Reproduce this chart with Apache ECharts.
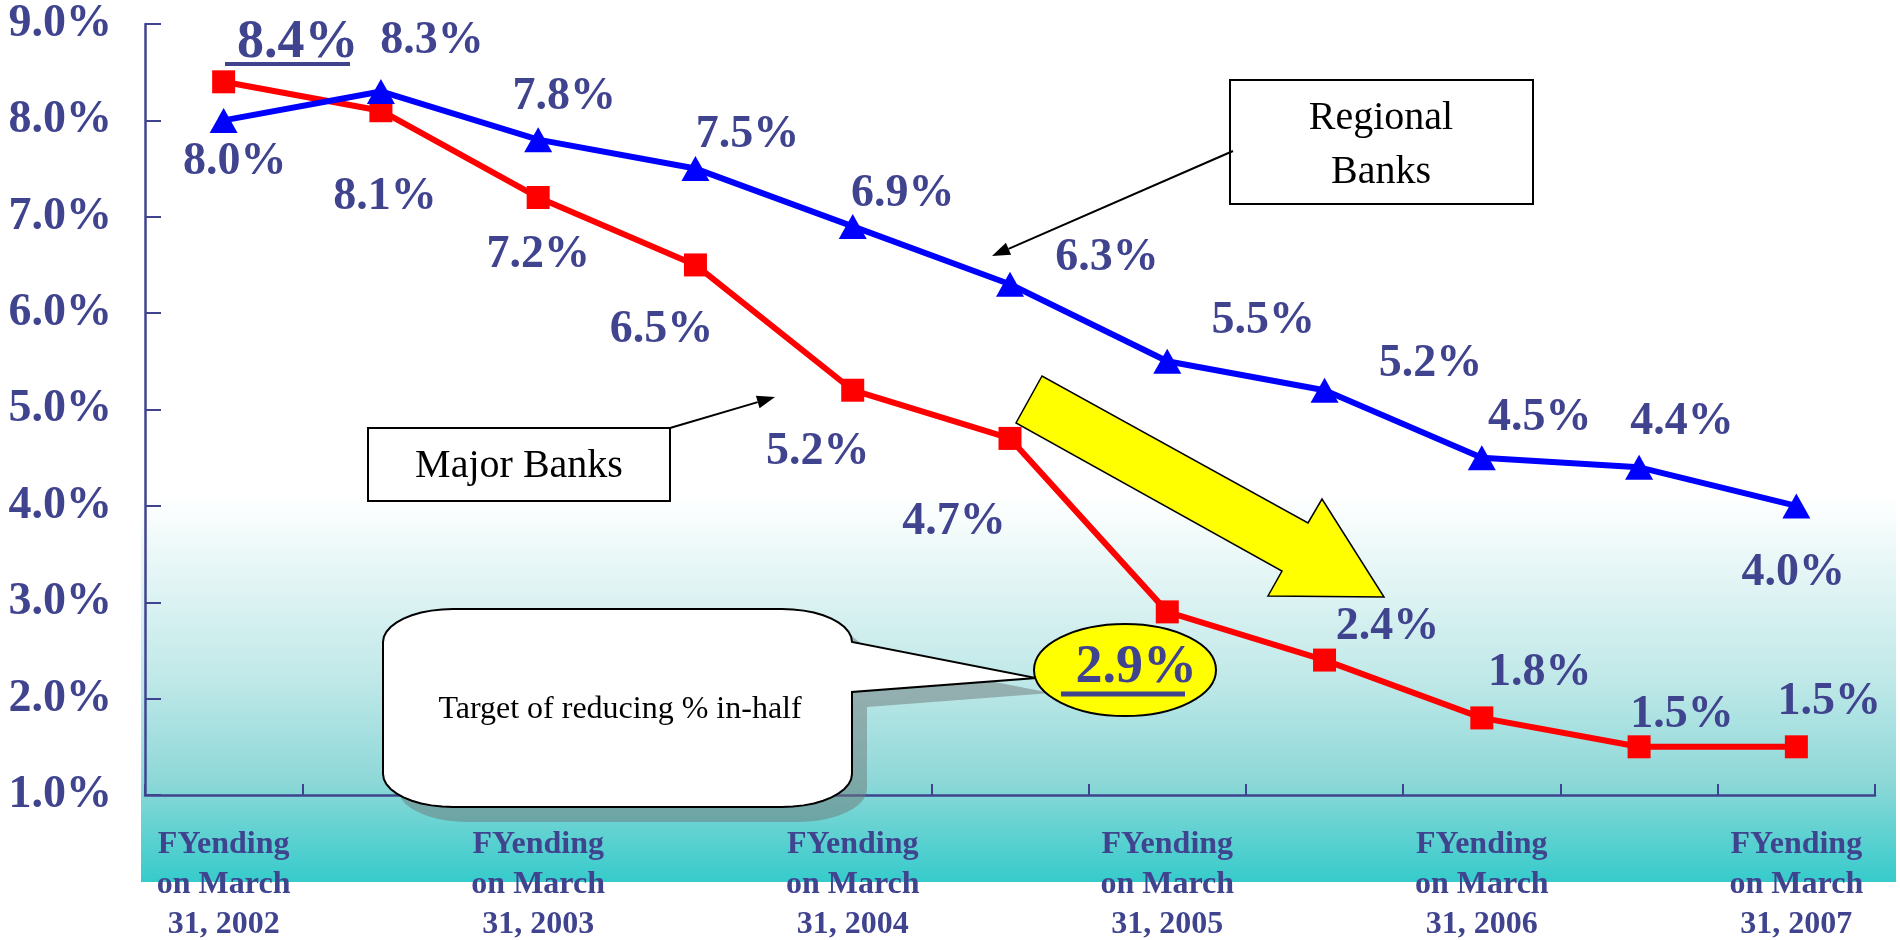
<!DOCTYPE html>
<html>
<head>
<meta charset="utf-8">
<script src="https://cdn.jsdelivr.net/npm/echarts@6/dist/echarts.min.js"></script>
<style>
  html, body { margin: 0; padding: 0; background: #fff; }
  #main { width: 1900px; height: 940px; }
</style>
</head>
<body>
<div id="main"></div>
<script>
// half-year points, labelled every March
const periods = ["Mar 2002", "Sep 2002", "Mar 2003", "Sep 2003", "Mar 2004", "Sep 2004",
  "Mar 2005", "Sep 2005", "Mar 2006", "Sep 2006", "Mar 2007"];
const tickLabels = ["FYending\non March\n31, 2002", "", "FYending\non March\n31, 2003", "",
  "FYending\non March\n31, 2004", "", "FYending\non March\n31, 2005", "",
  "FYending\non March\n31, 2006", "", "FYending\non March\n31, 2007"];
const majorBanks = [8.4, 8.1, 7.2, 6.5, 5.2, 4.7, 2.9, 2.4, 1.8, 1.5, 1.5];
const regionalBanks = [8.0, 8.3, 7.8, 7.5, 6.9, 6.3, 5.5, 5.2, 4.5, 4.4, 4.0];
// start value and target (halved) get the big underlined label
const majorHighlight = [0, 6];

// where each value label sits relative to its marker (px)
const majorLabelOffset = [[74, -39], [4, 86], [0, 58], [-34, 65], [-35, 62], [-56, 84],
  [-31, 56], [63, -33], [58, -45], [43, -32], [33, -45]];
const regionalLabelOffset = [[11, 42], [51, -50], [26, -43], [52, -33], [50, -32], [97, -26],
  [96, -40], [106, -26], [58, -40], [43, -45], [-3, 67]];

const NAVY = "#40448f";
const SERIF = "Liberation Serif";

const chartDom = document.getElementById("main");
const myChart = echarts.init(chartDom);

const valueLabel = {
  show: true,
  position: "inside",
  formatter: (p) => p.value.toFixed(1) + "%",
  color: NAVY,
  fontFamily: SERIF,
  fontWeight: "bold",
  fontSize: 46,
};

const majorData = majorBanks.map((v, i) =>
  majorHighlight.includes(i) ? { value: v, label: { fontSize: 54 } } : v);

// simple line + arrowhead
function pointer(x1, y1, x2, y2) {
  const dx = x2 - x1, dy = y2 - y1;
  const len = Math.sqrt(dx * dx + dy * dy);
  const ux = dx / len, uy = dy / len;
  const bx = x2 - ux * 18, by = y2 - uy * 18;
  const nx = -uy * 6.5, ny = ux * 6.5;
  return [
    { type: "line", z: 3, shape: { x1: x1, y1: y1, x2: bx, y2: by }, style: { stroke: "#000", lineWidth: 2 } },
    { type: "polygon", z: 3, shape: { points: [[x2, y2], [bx + nx, by + ny], [bx - nx, by - ny]] }, style: { fill: "#000" } },
  ];
}

// rounded callout outline with a tail on the right side
function calloutPoints(x0, y0, x1, y1, rx, ry, tail, dx, dy) {
  const pts = [];
  const corner = (cx, cy, a0) => {
    for (let k = 0; k <= 10; k++) {
      const a = a0 + (k / 10) * Math.PI / 2;
      pts.push([cx + rx * Math.cos(a) + dx, cy + ry * Math.sin(a) + dy]);
    }
  };
  corner(x1 - rx, y0 + ry, -Math.PI / 2);        // top-right
  tail.forEach((p) => pts.push([p[0] + dx, p[1] + dy]));
  corner(x1 - rx, y1 - ry, 0);                   // bottom-right
  corner(x0 + rx, y1 - ry, Math.PI / 2);         // bottom-left
  corner(x0 + rx, y0 + ry, Math.PI);             // top-left
  return pts;
}
const calloutTail = [[1036, 678], [852, 692]];

const option = {
  animation: false,
  grid: { left: 145, right: 25, top: 24, bottom: 145, containLabel: false, outerBoundsMode: "none" },
  xAxis: {
    type: "category",
    data: periods,
    boundaryGap: true,
    axisLine: { lineStyle: { color: NAVY, width: 2.5 } },
    axisTick: { show: true, inside: true, length: 11, interval: 0, lineStyle: { color: NAVY, width: 2 } },
    axisLabel: {
      interval: 0,
      margin: 30,
      formatter: (v, i) => tickLabels[i],
      color: NAVY,
      fontFamily: SERIF,
      fontWeight: "bold",
      fontSize: 32,
      lineHeight: 40,
    },
    splitLine: { show: false },
  },
  yAxis: {
    type: "value",
    min: 1,
    max: 9,
    interval: 1,
    axisLine: { show: true, lineStyle: { color: NAVY, width: 2.5 } },
    axisTick: { show: true, inside: true, length: 16, lineStyle: { color: NAVY, width: 2 } },
    axisLabel: {
      margin: 33,
      formatter: (v) => v.toFixed(1) + "%",
      color: NAVY,
      fontFamily: SERIF,
      fontWeight: "bold",
      fontSize: 46,
      verticalAlign: "middle",
      padding: [8, 0, 0, 0],
    },
    splitLine: { show: false },
  },
  series: [
    {
      name: "Major Banks",
      type: "line",
      data: majorData,
      symbol: "rect",
      symbolSize: 23,
      showAllSymbol: true,
      lineStyle: { color: "#ff0000", width: 6 },
      itemStyle: { color: "#ff0000" },
      label: valueLabel,
      labelLayout: (p) => ({ dx: majorLabelOffset[p.dataIndex][0], dy: majorLabelOffset[p.dataIndex][1], hideOverlap: false }),
      z: 2,
    },
    {
      name: "Regional Banks",
      type: "line",
      data: regionalBanks,
      symbol: "triangle",
      symbolSize: [28, 25],
      showAllSymbol: true,
      lineStyle: { color: "#0000ff", width: 6 },
      itemStyle: { color: "#0000ff" },
      label: valueLabel,
      labelLayout: (p) => ({ dx: regionalLabelOffset[p.dataIndex][0], dy: regionalLabelOffset[p.dataIndex][1], hideOverlap: false }),
      z: 2,
    },
  ],
  graphic: [
    {
      type: "rect", z: -10,
      shape: { x: 141, y: 400, width: 1755, height: 482 },
      style: {
        fill: {
          type: "linear", x: 0, y: 0, x2: 0, y2: 1,
          colorStops: [
            { offset: 0, color: "#ffffff" },
            { offset: 0.2, color: "#ffffff" },
            { offset: 0.58, color: "#c0e8e8" },
            { offset: 0.79, color: "#8ed8d8" },
            { offset: 1, color: "#36cbcb" },
          ],
        },
      },
    },
    // callout bubble + shadow
    {
      type: "polygon", z: 1, z2: 1,
      shape: { points: calloutPoints(383, 609, 852, 807, 70, 33, calloutTail, 15, 15) },
      style: { fill: "rgba(110,120,120,0.5)" },
    },
    {
      type: "polygon", z: 1, z2: 2,
      shape: { points: calloutPoints(383, 609, 852, 807, 70, 33, calloutTail, 0, 0) },
      style: { fill: "#fff", stroke: "#000", lineWidth: 2 },
    },
    {
      type: "text", z: 1, z2: 3, x: 620, y: 710,
      style: { text: "Target of reducing % in-half", font: "32px 'Liberation Serif'", fill: "#000", align: "center", verticalAlign: "middle" },
    },
    { type: "ellipse", z: 1, z2: 4, shape: { cx: 1125, cy: 670, rx: 91, ry: 46 }, style: { fill: "#ffff00", stroke: "#000", lineWidth: 2 } },
    { type: "line", z: 3, shape: { x1: 1061, y1: 694, x2: 1185, y2: 694 }, style: { stroke: NAVY, lineWidth: 5 } },
    { type: "line", z: 3, shape: { x1: 225, y1: 64, x2: 350, y2: 64 }, style: { stroke: NAVY, lineWidth: 4 } },
    // big yellow trend arrow
    {
      type: "polygon", z: 3,
      shape: { points: [[1042, 376], [1016, 423], [1282, 571], [1268, 596], [1384, 597], [1322, 499], [1308, 523]] },
      style: { fill: "#ffff00", stroke: "#000", lineWidth: 1.5 },
    },
    // series name boxes
    { type: "rect", z: 3, shape: { x: 1230, y: 80, width: 303, height: 124 }, style: { fill: "#fff", stroke: "#000", lineWidth: 2 } },
    {
      type: "text", z: 3, z2: 5, x: 1381, y: 145,
      style: { text: "Regional\nBanks", font: "40px 'Liberation Serif'", lineHeight: 54, fill: "#000", align: "center", verticalAlign: "middle" },
    },
    ...pointer(1233, 151, 992, 256),
    { type: "rect", z: 3, shape: { x: 368, y: 428, width: 302, height: 73 }, style: { fill: "#fff", stroke: "#000", lineWidth: 2 } },
    {
      type: "text", z: 3, z2: 5, x: 519, y: 466,
      style: { text: "Major Banks", font: "40px 'Liberation Serif'", fill: "#000", align: "center", verticalAlign: "middle" },
    },
    ...pointer(670, 428, 775, 397),
  ],
};

myChart.setOption(option);
</script>
</body>
</html>
